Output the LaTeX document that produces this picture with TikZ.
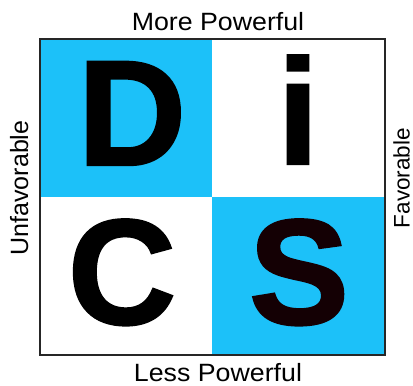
\documentclass[tikz,border=0pt]{standalone}
\usepackage{fontspec}
\setmainfont{Liberation Sans}
\newfontface\discheavy{Liberation Sans Bold}[FakeBold=1.5]
\usetikzlibrary{positioning}
\definecolor{discBlue}{HTML}{1CC1F9}
\definecolor{discInk}{HTML}{140004}
\definecolor{discFrame}{HTML}{262626}
\tikzset{
  quadrant/.style={inner sep=0pt, minimum width=172.5pt, minimum height=158pt},
  letter/.style={font=\discheavy\fontsize{150}{150}\selectfont, anchor=base, inner sep=0pt},
  axislabel/.style={font=\fontsize{25}{25}\selectfont, anchor=base, inner sep=0pt}
}

\begin{document}
\begin{tikzpicture}[x=1pt, y=1pt]
  \useasboundingbox (0,0) rectangle (413,386);
  % quadrants
  \node[quadrant, fill=discBlue, anchor=north west] (qD) at (40,347) {};
  \node[quadrant, fill=white, anchor=north east] (qi) at (385,347) {};
  \node[quadrant, fill=white, anchor=south west] (qC) at (40,31) {};
  \node[quadrant, fill=discBlue, anchor=south east] (qS) at (385,31) {};
  \draw[discFrame, line width=1.2pt] (qD.north west) rectangle (qS.south east);
  % letters
  \node[letter] (D) at (132,221) {D};
  \node[letter] (i) at (298,222) {i};
  \node[letter] (C) at (122,62) {C};
  \node[letter, text=discInk] (S) at (299,62) {S};
  % axis labels
  \node[axislabel, xscale=1.07] (more) at (218,355) {More Powerful};
  \node[axislabel, xscale=1.07] (less) at (218,4) {Less Powerful};
  \node[axislabel, rotate=90] (unfav) at (28,198) {Unfavorable};
  \node[axislabel, rotate=90, font=\fontsize{22.5}{22.5}\selectfont] (fav) at (409.5,208) {Favorable};
\end{tikzpicture}
\end{document}
